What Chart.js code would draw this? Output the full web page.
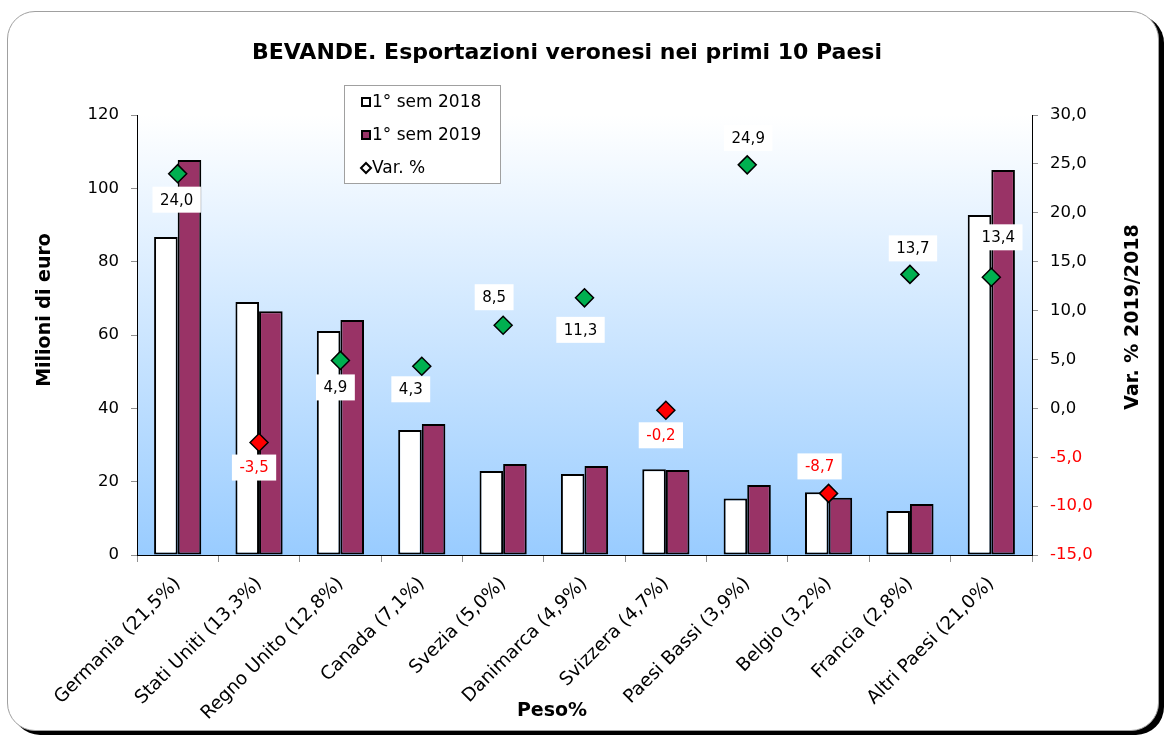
<!DOCTYPE html>
<html lang="it">
<head>
<meta charset="utf-8">
<title>BEVANDE - Esportazioni veronesi</title>
<script src="https://cdn.jsdelivr.net/npm/chart.js@4.4.1/dist/chart.umd.min.js"></script>
<style>
  html, body { margin: 0; padding: 0; background: #fff; }
  #wrap { position: relative; width: 1167px; height: 735px; overflow: hidden; }
  #frame {
    position: absolute; left: 7px; top: 11px; width: 1150px; height: 718px;
    border: 1px solid #a0a0a0; border-radius: 28px;
    box-shadow: 5px 4px 0 #000; background: #fff;
  }
  #chart { position: absolute; left: 0; top: 0; }
</style>
</head>
<body>
<div id="wrap">
  <div id="frame"></div>
  <canvas id="chart" width="1167" height="735"></canvas>
</div>
<script>
// dati
const paesi = ['Germania (21,5%)', 'Stati Uniti (13,3%)', 'Regno Unito (12,8%)', 'Canada (7,1%)',
  'Svezia (5,0%)', 'Danimarca (4,9%)', 'Svizzera (4,7%)', 'Paesi Bassi (3,9%)',
  'Belgio (3,2%)', 'Francia (2,8%)', 'Altri Paesi (21,0%)'];
const sem2018 = [86.7, 69.0, 61.1, 34.1, 22.9, 22.1, 23.4, 15.4, 17.1, 12.0, 92.7];
const sem2019 = [107.7, 66.5, 64.1, 35.7, 24.8, 24.3, 23.2, 19.1, 15.6, 13.9, 105.0];
const varPerc = [24.0, -3.5, 4.9, 4.3, 8.5, 11.3, -0.2, 24.9, -8.7, 13.7, 13.4];
const ticksEuro = [0, 20, 40, 60, 80, 100, 120];
const ticksVar = [-15, -10, -5, 0, 5, 10, 15, 20, 25, 30];

// spostamento delle etichette rispetto al rombo (px)
const labelShift = [[-1, 26], [-5, 25], [-5, 27], [-11, 23], [-9, -28], [-4, 32],
  [-5, 25], [1, -27], [-9, -27], [3, -26], [7, -40]];

const FONT = '"DejaVu Sans", Verdana, sans-serif';
const RED = '#ff0000';
const fmt = v => v.toFixed(1).replace('.', ',');

// sfondo sfumato dell'area del grafico
const plotBg = {
  id: 'plotBg',
  beforeDraw(chart) {
    const { ctx, chartArea: a } = chart;
    const g = ctx.createLinearGradient(0, a.top, 0, a.bottom);
    g.addColorStop(0, '#ffffff');
    g.addColorStop(1, '#99ccff');
    ctx.save();
    ctx.fillStyle = g;
    ctx.fillRect(a.left, a.top, a.right - a.left, a.bottom - a.top);
    ctx.restore();
  }
};

// etichette della variazione %
const varLabels = {
  id: 'varLabels',
  afterDatasetsDraw(chart) {
    const ctx = chart.ctx;
    const meta = chart.getDatasetMeta(2);
    ctx.save();
    ctx.font = '15px ' + FONT;
    ctx.textAlign = 'center';
    ctx.textBaseline = 'middle';
    meta.data.forEach((pt, i) => {
      const txt = fmt(varPerc[i]);
      const cx = pt.x + labelShift[i][0];
      const cy = pt.y + labelShift[i][1];
      const w = ctx.measureText(txt).width + 15;
      ctx.fillStyle = '#ffffff';
      ctx.fillRect(cx - w / 2, cy - 13, w, 26);
      ctx.fillStyle = varPerc[i] < 0 ? RED : '#000';
      ctx.fillText(txt, cx, cy + 1);
    });
    ctx.restore();
  }
};

// titoli, assi e legenda
const decor = {
  id: 'decor',
  afterDraw(chart) {
    const ctx = chart.ctx;
    ctx.save();
    ctx.fillStyle = '#000';
    ctx.textAlign = 'center';
    ctx.textBaseline = 'middle';
    ctx.font = 'bold 22px ' + FONT;
    ctx.fillText('BEVANDE. Esportazioni veronesi nei primi 10 Paesi', 567, 53);

    ctx.font = 'bold 19px ' + FONT;
    ctx.fillText('Peso%', 552, 711);
    ctx.save();
    ctx.translate(45, 310);
    ctx.rotate(-Math.PI / 2);
    ctx.fillText('Milioni di euro', 0, 0);
    ctx.restore();
    ctx.save();
    ctx.translate(1133, 317);
    ctx.rotate(-Math.PI / 2);
    ctx.fillText('Var. % 2019/2018', 0, 0);
    ctx.restore();

    // legenda
    const lx = 344, ly = 85, lw = 156, lh = 98;
    ctx.fillStyle = '#fff';
    ctx.fillRect(lx, ly, lw, lh);
    ctx.strokeStyle = '#a0a0a0';
    ctx.lineWidth = 1;
    ctx.strokeRect(lx + 0.5, ly + 0.5, lw, lh);
    const ds = chart.data.datasets;
    ctx.font = '17px ' + FONT;
    ctx.textAlign = 'left';
    [102, 135, 168].forEach((y, i) => {
      ctx.strokeStyle = '#000';
      ctx.lineWidth = 2;
      if (i < 2) {
        ctx.fillStyle = ds[i].backgroundColor;
        ctx.fillRect(362, y - 4, 8, 8);
        ctx.strokeRect(362, y - 4, 8, 8);
      } else {
        ctx.fillStyle = '#fff';
        ctx.beginPath();
        ctx.moveTo(366, y - 5); ctx.lineTo(371, y); ctx.lineTo(366, y + 5); ctx.lineTo(361, y);
        ctx.closePath();
        ctx.fill(); ctx.stroke();
      }
      ctx.fillStyle = '#000';
      ctx.fillText(ds[i].label, 372, y + 1);
    });
    ctx.restore();
  }
};

new Chart(document.getElementById('chart'), {
  data: {
    labels: paesi,
    datasets: [
      { type: 'bar', label: '1° sem 2018', data: sem2018, backgroundColor: '#ffffff',
        borderColor: '#000', borderWidth: 2, borderSkipped: false, yAxisID: 'y', order: 1 },
      { type: 'bar', label: '1° sem 2019', data: sem2019, backgroundColor: '#993366',
        borderColor: '#000', borderWidth: 2, borderSkipped: false, yAxisID: 'y', order: 2 },
      { type: 'line', label: 'Var. %', data: varPerc, yAxisID: 'y1', showLine: false, order: 0,
        pointStyle: 'rectRot', pointRadius: 9, pointHoverRadius: 9, pointBorderWidth: 1.5,
        pointBorderColor: '#000',
        pointBackgroundColor: varPerc.map(v => v < 0 ? RED : '#00b050') }
    ]
  },
  options: {
    responsive: false,
    animation: false,
    layout: { padding: { top: 115 } },
    datasets: { bar: { categoryPercentage: 0.58, barPercentage: 1 } },
    plugins: { legend: { display: false }, tooltip: { enabled: false } },
    scales: {
      x: {
        grid: { offset: true, drawOnChartArea: false, tickLength: 7, color: '#909090' },
        border: { color: '#000', width: 1 },
        ticks: { minRotation: 45, maxRotation: 45, padding: 11, color: '#000',
          font: { family: FONT, size: 18.5 } },
        afterFit: s => { s.height = 180; }
      },
      y: {
        position: 'left', min: 0, max: 120,
        afterBuildTicks: s => { s.ticks = ticksEuro.map(v => ({ value: v })); },
        grid: { drawOnChartArea: false, tickLength: 6, color: '#909090' },
        border: { color: '#000', width: 1 },
        ticks: { padding: 12, color: '#000', font: { family: FONT, size: 16.5 } },
        afterFit: s => { s.width = 137; }
      },
      y1: {
        position: 'right', min: -15, max: 30,
        afterBuildTicks: s => { s.ticks = ticksVar.map(v => ({ value: v })); },
        grid: { drawOnChartArea: false, tickLength: 6, color: '#909090' },
        border: { color: '#000', width: 1 },
        ticks: { padding: 12, font: { family: FONT, size: 16.5 },
          callback: v => fmt(v),
          color: c => c.tick && c.tick.value < 0 ? RED : '#000' },
        afterFit: s => { s.width = 135; }
      }
    }
  },
  plugins: [plotBg, varLabels, decor]
});
</script>
</body>
</html>
